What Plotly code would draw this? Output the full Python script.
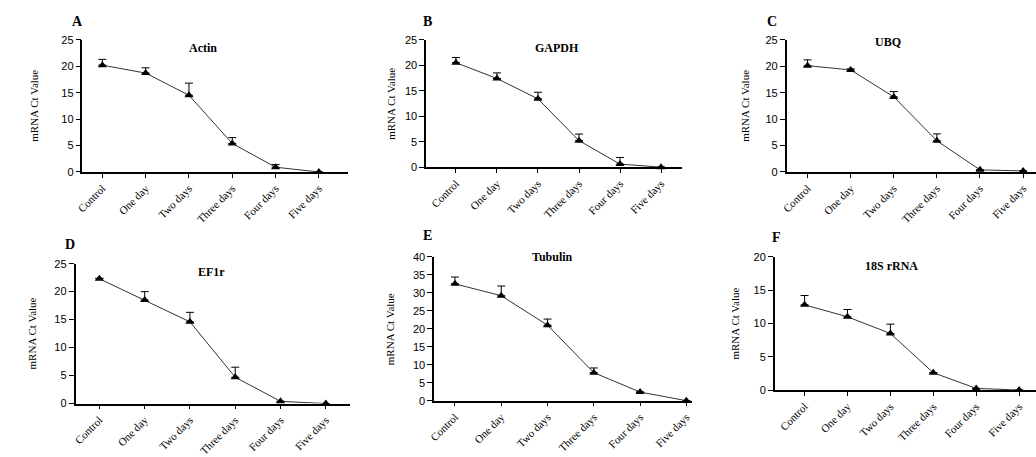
import plotly.graph_objects as go

categories = ["Control", "One day", "Two days", "Three days", "Four days", "Five days"]

actin_mean = [20.2, 18.7, 14.5, 5.4, 0.9, 0.0]
actin_err = [1.1, 1.0, 2.3, 1.1, 0.5, 0.0]
gapdh_mean = [20.5, 17.4, 13.4, 5.2, 0.6, 0.0]
gapdh_err = [1.0, 1.1, 1.3, 1.3, 1.3, 0.0]
ubq_mean = [20.1, 19.3, 14.2, 5.9, 0.4, 0.2]
ubq_err = [1.1, 0.2, 1.0, 1.3, 0.0, 0.0]
ef1r_mean = [22.3, 18.5, 14.6, 4.7, 0.4, 0.0]
ef1r_err = [0.1, 1.5, 1.7, 1.8, 0.0, 0.0]
tubulin_mean = [32.5, 29.2, 21.0, 7.8, 2.4, 0.0]
tubulin_err = [1.9, 2.7, 1.7, 1.3, 0.0, 0.0]
rrna_mean = [12.8, 11.0, 8.5, 2.6, 0.25, 0.0]
rrna_err = [1.4, 1.1, 1.4, 0.0, 0.0, 0.0]

W, H = 1036, 457

# panel layout in pixels
panels = [
    ("A", "Actin", actin_mean, actin_err, 76, 343, 35, 172, 25, 96, 43.6, 27, (197, 44), (71, 16)),
    ("B", "GAPDH", gapdh_mean, gapdh_err, 422, 680, 35, 167, 25, 452, 41.3, 387, (554, 44), (423, 16)),
    ("C", "UBQ", ubq_mean, ubq_err, 785, 1036, 35, 172, 25, 806, 43.4, 743, (887, 37), (770, 16)),
    ("D", "EF1r", ef1r_mean, ef1r_err, 69, 345, 267, 412, 25, 93, 45.6, 25, (206, 276), (63, 247)),
    ("E", "Tubulin", tubulin_mean, tubulin_err, 430, 690, 260, 409, 40, 451, 46.6, 385, (549, 260), (423, 238)),
    ("F", "18S rRNA", rrna_mean, rrna_err, 773, 1036, 260, 398, 20, 803, 43.2, 733, (891, 269), (775, 240)),
]

fig = go.Figure()
annotations = []
layout = {}
for i, (letter, title, mean, err, x0, x1, yt, yb, ymax, cpx, sp, ylx, txy, lxy) in enumerate(panels):
    n = "" if i == 0 else str(i + 1)
    xa, ya = "x" + n, "y" + n
    fig.add_trace(go.Scatter(
        x=categories, y=mean, xaxis=xa, yaxis=ya, mode="lines+markers",
        line=dict(color="#333333", width=1),
        marker=dict(symbol="triangle-up", size=8, color="black"),
        error_y=dict(type="data", symmetric=False, array=err, arrayminus=[0] * len(err),
                     color="black", thickness=1, width=4),
        cliponaxis=False, showlegend=False,
    ))
    lo = -(cpx - x0) / sp
    hi = (x1 - cpx) / sp
    layout["xaxis" + n] = dict(
        domain=[x0 / W, min(x1 / W, 1)], anchor=ya, type="category", range=[lo, hi],
        showline=True, linecolor="black", linewidth=1.5, ticks="outside", ticklen=4,
        tickcolor="black", tickangle=-45, showgrid=False, zeroline=False,
        tickfont=dict(family="Liberation Serif", size=11, color="black"),
    )
    layout["yaxis" + n] = dict(
        domain=[1 - yb / H, 1 - yt / H], anchor=xa, range=[0, ymax], dtick=5,
        showline=True, linecolor="black", linewidth=1.5, ticks="outside", ticklen=5,
        tickcolor="black", showgrid=False, zeroline=False,
        tickfont=dict(family="Liberation Sans", size=11, color="black"),
    )
    common = dict(xref="paper", yref="paper", showarrow=False, xanchor="center", yanchor="middle")
    annotations.append(dict(text="<b>%s</b>" % title, x=txy[0] / W, y=1 - txy[1] / H,
                            font=dict(family="Liberation Serif", size=12, color="black"), **common))
    annotations.append(dict(text="<b>%s</b>" % letter, x=lxy[0] / W, y=1 - lxy[1] / H,
                            font=dict(family="Liberation Serif", size=14, color="black"), **common))
    annotations.append(dict(text="mRNA Ct Value", x=ylx / W, y=1 - ((yt + yb) / 2) / H, textangle=-90,
                            font=dict(family="Liberation Serif", size=11, color="black"), **common))

fig.update_layout(
    width=W, height=H, margin=dict(l=0, r=0, t=0, b=0),
    paper_bgcolor="white", plot_bgcolor="white",
    annotations=annotations, **layout,
)
fig.write_html("out.html", post_script="document.body.style.margin='0';document.body.style.overflow='hidden';")
